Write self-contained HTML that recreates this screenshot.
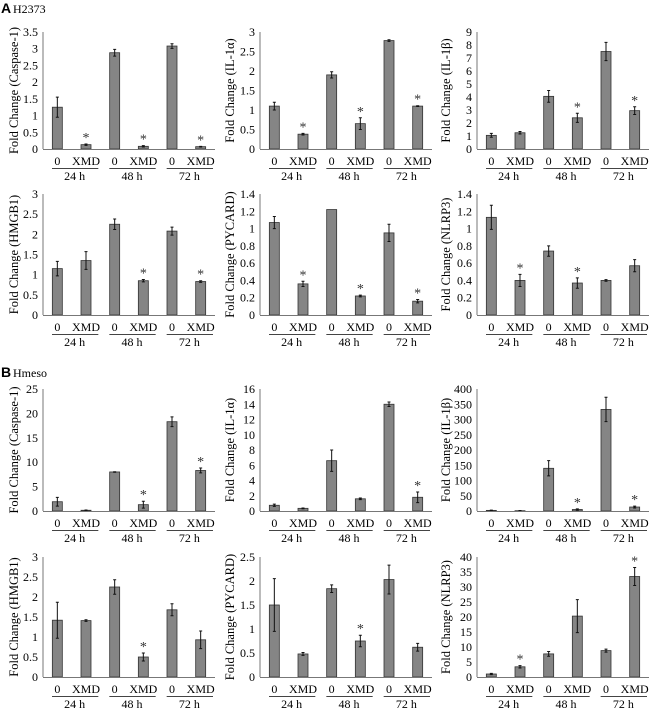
<!DOCTYPE html>
<html><head><meta charset="utf-8">
<style>
html,body{margin:0;padding:0;background:#fff;}
svg{display:block;font-family:"Liberation Serif",serif;}
</style></head>
<body>
<svg id="fig" width="650" height="708" viewBox="0 0 650 708" font-family="'Liberation Serif', serif">
<text x="1" y="13" font-family="'Liberation Sans', sans-serif" font-weight="bold" font-size="14">A</text>
<text x="13" y="13" font-size="12">H2373</text>
<text x="1" y="377" font-family="'Liberation Sans', sans-serif" font-weight="bold" font-size="14">B</text>
<text x="13" y="377" font-size="12">Hmeso</text>
</svg>
<script>
const categories = ["0","XMD","0","XMD","0","XMD"];
const groups = ["24 h","48 h","72 h"];
const titles = ["Caspase-1","IL-1\u03b1","IL-1\u03b2","HMGB1","PYCARD","NLRP3","Caspase-1","IL-1\u03b1","IL-1\u03b2","HMGB1","PYCARD","NLRP3"];
const yMax = [3.5,3,9,3,1.4,1.4,25,16,400,3,2.5,40];
const yStep = [0.5,0.5,1,0.5,0.2,0.2,5,2,50,0.5,0.5,5];
const v1 = [1.25,0.13,2.88,0.08,3.08,0.07], e1 = [0.3,0.02,0.1,0.02,0.07,0.01];
const v2 = [1.1,0.38,1.9,0.65,2.78,1.1], e2 = [0.1,0.02,0.08,0.15,0.02,0.01];
const v3 = [1.05,1.25,4.05,2.4,7.5,2.95], e3 = [0.15,0.1,0.45,0.35,0.7,0.3];
const v4 = [1.15,1.35,2.25,0.85,2.08,0.83], e4 = [0.18,0.22,0.13,0.03,0.1,0.02];
const v5 = [1.07,0.36,1.22,0.22,0.95,0.16], e5 = [0.07,0.03,0,0.01,0.1,0.02];
const v6 = [1.13,0.4,0.74,0.37,0.4,0.57], e6 = [0.14,0.07,0.06,0.06,0.01,0.07];
const v7 = [1.9,0.15,8,1.3,18.3,8.3], e7 = [0.9,0.05,0.05,0.7,1,0.5];
const v8 = [0.75,0.35,6.6,1.6,14,1.8], e8 = [0.15,0.05,1.4,0.1,0.3,0.7];
const v9 = [2,1,140,5,333,13], e9 = [1,0.5,25,2,40,3];
const v10 = [1.42,1.41,2.25,0.5,1.68,0.93], e10 = [0.45,0.02,0.18,0.1,0.15,0.22];
const v11 = [1.5,0.48,1.84,0.75,2.03,0.62], e11 = [0.55,0.03,0.08,0.12,0.3,0.08];
const v12 = [1,3.4,7.7,20.3,8.8,33.5], e12 = [0.2,0.4,0.8,5.5,0.5,3];
const s1=[0,1,0,1,0,1], s2=[0,1,0,1,0,1], s3=[0,0,0,1,0,1], s4=[0,0,0,1,0,1], s5=[0,1,0,1,0,1], s6=[0,1,0,1,0,0];
const s7=[0,0,0,1,0,1], s8=[0,0,0,0,0,1], s9=[0,0,0,1,0,1], s10=[0,0,0,1,0,0], s11=[0,0,0,1,0,0], s12=[0,1,0,0,0,1];
const values=[v1,v2,v3,v4,v5,v6,v7,v8,v9,v10,v11,v12];
const errors=[e1,e2,e3,e4,e5,e6,e7,e8,e9,e10,e11,e12];
const stars=[s1,s2,s3,s4,s5,s6,s7,s8,s9,s10,s11,s12];

const NS="http://www.w3.org/2000/svg";
const svg=document.getElementById('fig');
const colX=[43,260,477];
const rowY=[[32,149],[194,315],[389,511],[557,677]];
const titleX=[14,230,446];
const W=172;
function mk(tag,attrs,parent){const e=document.createElementNS(NS,tag);for(const k in attrs)e.setAttribute(k,attrs[k]);(parent||svg).appendChild(e);return e;}
for(let p=0;p<12;p++){
  const c=p%3,r=Math.floor(p/3);
  const ax=colX[c],top=rowY[r][0],zero=rowY[r][1];
  const g=mk('g',{});
  
  
  const y=v=>zero-(v/yMax[p])*(zero-top);
  const slot=W/6;
  const x=i=>ax+slot*(i+0.5);
  const t=mk('text',{x:0,y:0,'font-size':12.5,'text-anchor':'middle',transform:`translate(${titleX[c]+4},${(top+zero)/2}) rotate(-90)`},g);
  t.textContent='Fold Change ('+titles[p]+')';
  
  
  const n=Math.round(yMax[p]/yStep[p]);
  for(let k=0;k<=n;k++){
    const val=+(k*yStep[p]).toFixed(2);
    const tl=mk('text',{x:ax-5,y:y(val)+4,'font-size':12,'text-anchor':'end'},g);
    tl.textContent=String(val);
    
    
  }
  const ya=mk('line',{x1:ax,y1:top,x2:ax,y2:zero,stroke:'#777','stroke-width':1},g);
  
  
  for(let i=0;i<6;i++){
    const v=values[p][i],e=errors[p][i];
    const b=mk('rect',{x:x(i)-5,y:y(v),width:10,height:Math.max(zero-y(v),0.5),fill:'#858585',stroke:'#333','stroke-width':0.8},g);
    
    
    if(e>0){
      const el=mk('path',{d:`M${x(i)},${y(v+e)}V${y(Math.max(v-e,0))}M${x(i)-1.5},${y(v+e)}h3M${x(i)-1.5},${y(Math.max(v-e,0))}h3`,stroke:'#111','stroke-width':1,fill:'none'},g);
      
      
    }
    if(stars[p][i]){
      const st=mk('text',{x:x(i),y:y(v+e)-2,'font-size':14,'text-anchor':'middle',fill:'#333'},g);
      st.textContent='*';
      
      
    }
    const cl=mk('text',{x:x(i),y:zero+16,'font-size':12,'text-anchor':'middle'},g);
    cl.textContent=categories[i];
    
    
  }
  const xa=mk('line',{x1:ax,y1:zero+0.5,x2:ax+W,y2:zero+0.5,stroke:'#777','stroke-width':1},g);
  
  
  for(let j=0;j<3;j++){
    const gs=ax+slot*2*j;
    const ln=mk('line',{x1:gs+9,y1:zero+19.5,x2:gs+2*slot-2,y2:zero+19.5,stroke:'#444','stroke-width':1},g);
    
    
    const gl=mk('text',{x:gs+slot+3,y:zero+31,'font-size':12,'text-anchor':'middle'},g);
    gl.textContent=groups[j];
    
    
  }
}
</script>
</body></html>
